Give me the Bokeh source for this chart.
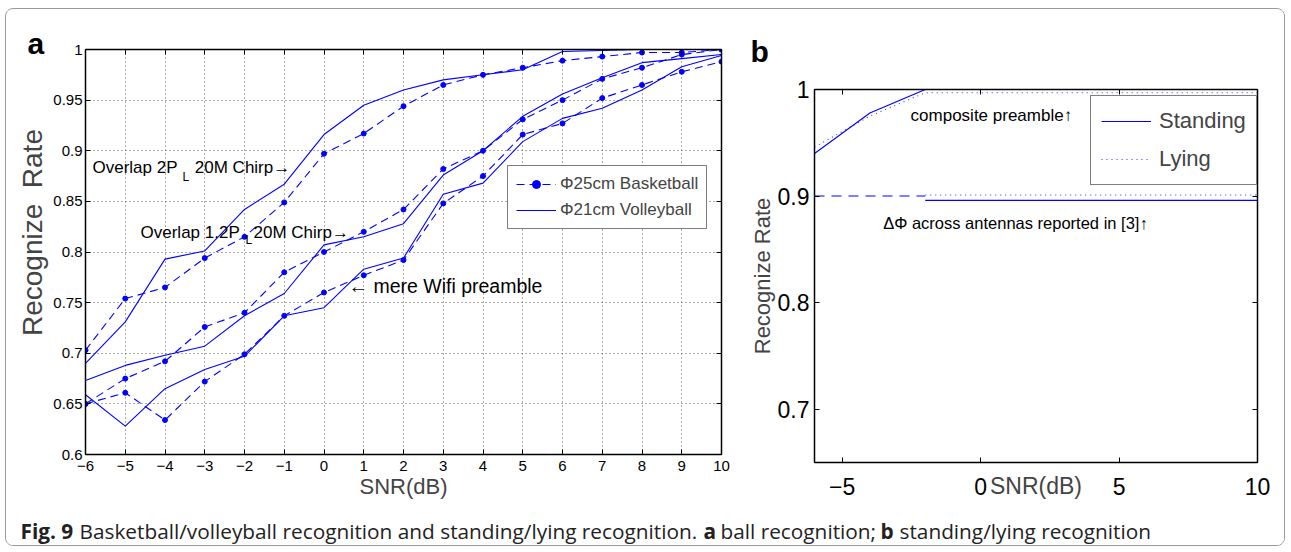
from bokeh.plotting import figure
from bokeh.models import (Range1d, FixedTicker, LinearAxis, Label, Legend, LegendItem,
                          CustomJSTickFormatter, Title)
from bokeh.layouts import column, row
from bokeh.embed import file_html
from bokeh.resources import INLINE

# ---------------- data: panel a ----------------
snr_a = [-6, -5, -4, -3, -2, -1, 0, 1, 2, 3, 4, 5, 6, 7, 8, 9, 10]
basket_2pl = [0.703, 0.754, 0.765, 0.794, 0.815, 0.849, 0.897, 0.917, 0.944, 0.965, 0.975, 0.982, 0.989, 0.993, 0.997, 0.997, 1.0]
volley_2pl = [0.690, 0.731, 0.793, 0.801, 0.842, 0.867, 0.916, 0.945, 0.960, 0.970, 0.975, 0.980, 0.998, 0.999, 1.0, 1.0, 1.0]
basket_12pl = [0.650, 0.675, 0.692, 0.726, 0.740, 0.780, 0.800, 0.820, 0.842, 0.882, 0.900, 0.931, 0.950, 0.971, 0.982, 0.995, 1.0]
volley_12pl = [0.673, 0.688, 0.698, 0.707, 0.737, 0.759, 0.807, 0.815, 0.828, 0.876, 0.900, 0.934, 0.956, 0.972, 0.987, 0.991, 0.995]
basket_wifi = [0.650, 0.661, 0.634, 0.672, 0.699, 0.737, 0.760, 0.777, 0.792, 0.848, 0.875, 0.916, 0.927, 0.952, 0.965, 0.978, 0.988]
volley_wifi = [0.659, 0.628, 0.665, 0.684, 0.697, 0.737, 0.745, 0.783, 0.794, 0.857, 0.868, 0.909, 0.932, 0.942, 0.960, 0.983, 0.994]
x_ticks_a = [-6, -5, -4, -3, -2, -1, 0, 1, 2, 3, 4, 5, 6, 7, 8, 9, 10]
x_labels_a = ["\u22126", "\u22125", "\u22124", "\u22123", "\u22122", "\u22121", "0", "1", "2", "3", "4", "5", "6", "7", "8", "9", "10"]
y_ticks_a = [0.6, 0.65, 0.7, 0.75, 0.8, 0.85, 0.9, 0.95, 1.0]
y_labels_a = ["0.6", "0.65", "0.7", "0.75", "0.8", "0.85", "0.9", "0.95", "1"]

# ---------------- data: panel b ----------------
snr_b = [-6, -4, -2, 0, 2, 4, 6, 8, 10]
standing_comp = [0.940, 0.978, 1.0, 1.0, 1.0, 1.0, 1.0, 1.0, 1.0]
lying_comp = [0.946, 0.975, 0.997, 0.997, 0.997, 0.997, 0.997, 0.997, 0.997]
snr_b_phase = [-2, 0, 2, 4, 6, 8, 10]
standing_phase = [0.896, 0.896, 0.896, 0.896, 0.896, 0.896, 0.896]
lying_phase = [0.901, 0.901, 0.901, 0.901, 0.901, 0.901, 0.901]
snr_b_ref = [-6, -4, -2]
reported_ref = [0.9, 0.9, 0.9]
x_ticks_b = [-5, 0, 5, 10]
x_labels_b = ["\u22125", "0", "5", "10"]
y_ticks_b = [0.7, 0.8, 0.9, 1.0]
y_labels_b = ["0.7", "0.8", "0.9", "1"]

BLUE = "#0000ff"
FONT = "Liberation Sans"
CAPFONT = "Open Sans"
EMPTY = CustomJSTickFormatter(code="return ''")


def style_axis(ax, ticks, labels, size, standoff):
    ax.ticker = FixedTicker(ticks=ticks)
    ax.major_label_overrides = dict(zip(ticks, labels))
    ax.major_tick_in = 5
    ax.major_tick_out = 0
    ax.minor_tick_in = 0
    ax.minor_tick_out = 0
    ax.axis_line_color = "black"
    ax.axis_line_width = 1.5
    ax.major_tick_line_color = "black"
    ax.major_label_text_font = FONT
    ax.major_label_text_font_size = size
    ax.major_label_text_color = "black"
    ax.major_label_standoff = standoff


def mirror_axis(fig, ticks, side):
    ax = LinearAxis(ticker=FixedTicker(ticks=ticks), formatter=EMPTY,
                    major_tick_in=5, major_tick_out=0, minor_tick_in=0, minor_tick_out=0,
                    axis_line_color="black", axis_line_width=1.5, major_label_standoff=0,
                    major_label_text_font_size="1px")
    fig.add_layout(ax, side)


def txt(fig, x, y, s, size, font=FONT, style="normal", align="left"):
    fig.add_layout(Label(x=x, y=y, text=s, text_font=font, text_font_size=size,
                         text_font_style=style, text_align=align, text_baseline="middle",
                         text_color="black"))


# ================= panel a =================
fa = figure(width=734, height=496, x_range=Range1d(-6, 10), y_range=Range1d(0.6, 1.0),
            output_backend="svg", toolbar_location=None,
            min_border_left=79, min_border_right=19, min_border_top=40, min_border_bottom=51,
            title=Title(text="a", align="left", offset=-58, text_font=FONT,
                        text_font_size="30px", text_font_style="bold", standoff=-20,
                        text_color="black"))
fa.frame_align = False
fa.outline_line_color = "black"
style_axis(fa.xaxis[0], x_ticks_a, x_labels_a, "15px", 6)
style_axis(fa.yaxis[0], y_ticks_a, y_labels_a, "15px", 3)
fa.xaxis.axis_label = "SNR(dB)"
fa.xaxis.axis_label_text_font = FONT
fa.xaxis.axis_label_text_font_size = "22px"
fa.xaxis.axis_label_text_font_style = "normal"
fa.xaxis.axis_label_standoff = 0
fa.yaxis.axis_label = "\u00a0\u00a0\u00a0\u00a0\u00a0Recognize\u00a0\u00a0Rate"
fa.yaxis.axis_label_text_font = FONT
fa.yaxis.axis_label_text_font_size = "28px"
fa.yaxis.axis_label_text_font_style = "normal"
fa.yaxis.axis_label_standoff = 2
mirror_axis(fa, x_ticks_a, "above")
mirror_axis(fa, y_ticks_a, "right")
fa.xgrid.ticker = FixedTicker(ticks=x_ticks_a)
fa.ygrid.ticker = FixedTicker(ticks=y_ticks_a)
fa.grid.grid_line_color = "#555555"
fa.grid.grid_line_dash = "1 3"
fa.grid.grid_line_width = 1

dash = "8 5"
lb1 = fa.line(snr_a, basket_2pl, color=BLUE, line_width=1.1, line_dash=dash)
db1 = fa.scatter(snr_a, basket_2pl, marker="circle", size=5, color=BLUE)
lv1 = fa.line(snr_a, volley_2pl, color=BLUE, line_width=1.1)
fa.line(snr_a, basket_12pl, color=BLUE, line_width=1.1, line_dash=dash)
fa.scatter(snr_a, basket_12pl, marker="circle", size=5, color=BLUE)
fa.line(snr_a, volley_12pl, color=BLUE, line_width=1.1)
fa.line(snr_a, basket_wifi, color=BLUE, line_width=1.1, line_dash=dash)
fa.scatter(snr_a, basket_wifi, marker="circle", size=5, color=BLUE)
fa.line(snr_a, volley_wifi, color=BLUE, line_width=1.1)

leg_a = Legend(items=[LegendItem(label="\u03a625cm Basketball", renderers=[lb1, db1]),
                      LegendItem(label="\u03a621cm Volleyball", renderers=[lv1])],
               location=(422, 225), border_line_color="black", border_line_width=1,
               background_fill_alpha=1, label_text_font=FONT, label_text_font_size="17px",
               glyph_width=40, glyph_height=20, label_height=20, padding=8, spacing=6,
               margin=0, label_standoff=4)
fa.add_layout(leg_a)

txt(fa, -5.824, 0.8835, "Overlap 2P", "17px")
txt(fa, -3.56, 0.8736, "L", "12px")
txt(fa, -3.25, 0.8835, "20M Chirp\u2192", "17px")
txt(fa, -4.616, 0.8196, "Overlap 1.2P", "17px")
txt(fa, -1.975, 0.8114, "L", "12px")
txt(fa, -1.774, 0.8196, "20M  Chirp\u2192", "17px")
txt(fa, 0.616, 0.7669, "\u2190 mere Wifi preamble", "19.5px")

# ================= panel b =================
fb = figure(width=544, height=496, x_range=Range1d(-6, 10), y_range=Range1d(0.65, 1.0),
            output_backend="svg", toolbar_location=None,
            min_border_left=74, min_border_right=27, min_border_top=80, min_border_bottom=43,
            title=Title(text="b", align="left", offset=-64, text_font=FONT,
                        text_font_size="30px", text_font_style="bold", standoff=44,
                        text_color="black"))
fb.frame_align = False
fb.outline_line_color = "black"
fb.grid.visible = False
style_axis(fb.xaxis[0], x_ticks_b, x_labels_b, "23px", 15)
style_axis(fb.yaxis[0], y_ticks_b, y_labels_b, "23px", 5)
fb.xaxis.axis_label = "SNR(dB)"
fb.xaxis.axis_label_text_font = FONT
fb.xaxis.axis_label_text_font_size = "23px"
fb.xaxis.axis_label_text_font_style = "normal"
fb.xaxis.axis_label_standoff = -25
fb.yaxis.axis_label = "Recognize Rate"
fb.yaxis.axis_label_text_font = FONT
fb.yaxis.axis_label_text_font_size = "22px"
fb.yaxis.axis_label_text_font_style = "normal"
fb.yaxis.axis_label_standoff = 0
mirror_axis(fb, x_ticks_b, "above")
mirror_axis(fb, y_ticks_b, "right")

ls = fb.line(snr_b, standing_comp, color=BLUE, line_width=1.1)
ll = fb.line(snr_b, lying_comp, color=BLUE, line_width=1.1, line_dash="1 4", line_alpha=0.8)
fb.line(snr_b_phase, standing_phase, color=BLUE, line_width=1.1)
fb.line(snr_b_phase, lying_phase, color=BLUE, line_width=1.1, line_dash="1 4", line_alpha=0.8)
fb.line(snr_b_ref, reported_ref, color=BLUE, line_width=1.1, line_dash="10 7")

leg_b = Legend(items=[LegendItem(label="Standing", renderers=[ls]),
                      LegendItem(label="Lying", renderers=[ll])],
               location=(276, 277), border_line_color="black", border_line_width=1.5,
               background_fill_alpha=1, label_text_font=FONT, label_text_font_size="22px",
               glyph_width=50, glyph_height=30, label_height=30, padding=10, spacing=8,
               margin=0, label_standoff=8)
fb.add_layout(leg_b)

txt(fb, -2.53, 0.9756, "composite preamble\u2191", "17px")
txt(fb, -3.52, 0.8749, "\u0394\u03a6 across antennas reported in [3]\u2191", "16.5px")

# ================= caption =================
fc = figure(width=1278, height=40, x_range=Range1d(0, 1278), y_range=Range1d(0, 40),
            output_backend="svg", toolbar_location=None, x_axis_type=None, y_axis_type=None,
            min_border=0)
fc.frame_align = False
fc.outline_line_color = None
fc.grid.visible = False
cap_color = "#222222"
for xpos, s, st in [(14, "Fig. 9", "bold"),
                    (73, "Basketball/volleyball recognition and standing/lying recognition.", "normal"),
                    (697, "a", "bold"),
                    (714, "ball recognition;", "normal"),
                    (874, "b", "bold"),
                    (893, "standing/lying recognition", "normal")]:
    fc.add_layout(Label(x=xpos, y=15, text=s, text_font=CAPFONT, text_font_size="20.8px",
                        text_font_style=st, text_align="left", text_baseline="middle",
                        text_color=cap_color))

layout = column(row(fa, fb), fc,
                styles={"margin-left": "5px", "margin-top": "8px",
                        "border": "1px solid #9a9a9a", "border-radius": "8px",
                        "overflow": "hidden"})

open("out.html", "w").write(file_html(layout, INLINE))
